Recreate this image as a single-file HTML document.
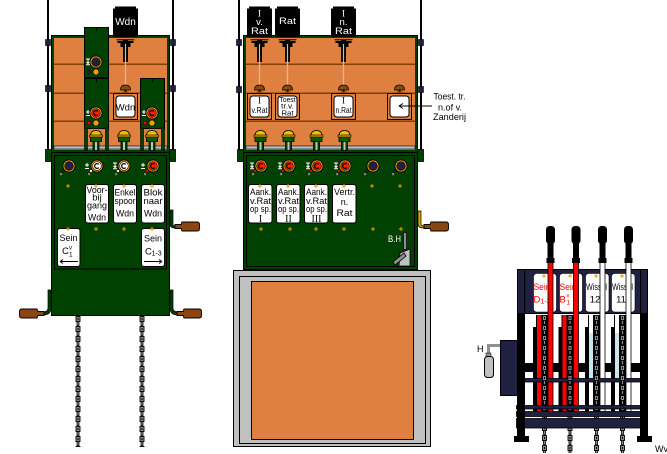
<!DOCTYPE html>
<html><head><meta charset="utf-8">
<style>
html,body{margin:0;padding:0;background:#fff;overflow:hidden}
svg{display:block}
text{font-family:"Liberation Sans",sans-serif}
.sf{font-family:"Liberation Serif",serif}
</style></head><body>
<svg xmlns="http://www.w3.org/2000/svg" width="667" height="454" viewBox="0 0 667 454">
<defs>
<pattern id="chain" width="6" height="10" patternUnits="userSpaceOnUse">
 <rect x="0.5" y="0.5" width="4" height="5" fill="#8c8c8c" stroke="#000" stroke-width="0.9"/>
 <rect x="2" y="2" width="1" height="2" fill="#000"/>
 <rect x="1.5" y="5.5" width="2" height="4" fill="#8c8c8c" stroke="#000" stroke-width="0.8"/>
</pattern>
<g id="helm">
 <rect x="-3" y="10" width="6" height="10" fill="#004000" stroke="#000" stroke-width="0.8"/>
 <rect x="-1" y="11" width="2" height="9" fill="#c0c0c0"/>
 <rect x="-5.5" y="6.5" width="11" height="5" fill="#006000" stroke="#000" stroke-width="0.8"/>
 <path d="M-5.5,6 Q-5.5,0.5 0,0.5 Q5.5,0.5 5.5,6 Z" fill="#f0c000" stroke="#000" stroke-width="0.8"/>
 <rect x="-6.5" y="5" width="13" height="2" fill="#e0a000" stroke="#000" stroke-width="0.6"/>
</g>
<g id="mech">
 <rect x="-9" y="39" width="18" height="1.4" fill="#303000"/>
 <path d="M-8,41 H8 V43 H5 V47 H-5 V43 H-8 Z" fill="#000"/>
 <rect x="-2.5" y="40" width="5" height="22" fill="#000"/>
 <rect x="-0.6" y="44" width="1.2" height="41" fill="#c0c0c0"/>
</g>
<g id="knob">
 <path d="M-5,90 Q-5,85 0,85 Q5,85 5,90 Z" fill="#8a4a10" stroke="#000" stroke-width="0.7"/>
 <rect x="-1" y="90" width="2" height="2" fill="#000"/>
 <rect x="-3" y="91.5" width="6" height="1.5" fill="#8a4a10"/>
</g>
<g id="lframe">
 <rect x="0.5" y="93.5" width="24" height="26" fill="#e08040" stroke="#000"/>
 <rect x="3" y="96" width="19" height="21" rx="3" fill="#fff" stroke="#000"/>
</g>
<g id="lampD"><circle r="6.5" fill="#000"/><circle r="5.6" fill="#f0a000"/><circle r="4.3" fill="#202040" stroke="#000" stroke-width=".6"/></g>
<g id="lampW"><circle r="6.5" fill="#000"/><circle r="5.6" fill="#f0a000"/><circle r="4.3" fill="#fff" stroke="#000" stroke-width=".6"/><path d="M1.8,-1.6 A2.4,2.4 0 1 0 1.8,1.6" stroke="#000" stroke-width="1.2" fill="none"/></g>
<g id="lampR"><circle r="6.5" fill="#000"/><circle r="5.6" fill="#f0a000"/><circle r="4.3" fill="#ff2000" stroke="#000" stroke-width=".6"/><path d="M1.8,-1.6 A2.4,2.4 0 1 0 1.8,1.6" stroke="#000" stroke-width="1.2" fill="none"/></g>
<g id="indD"><circle cx="-6" cy="5" r="1.4" fill="#202040" stroke="#000" stroke-width=".4"/><rect x="-9" y="7" width="2.2" height="2.2" fill="#808080"/></g>
<g id="indW"><circle cx="-6" cy="5" r="1.4" fill="#fff" stroke="#000" stroke-width=".4"/><rect x="-9" y="7" width="2.2" height="2.2" fill="#808080"/></g>
<g id="indR"><circle cx="-6" cy="5" r="1.4" fill="#ff0000" stroke="#000" stroke-width=".4"/><rect x="-9" y="7" width="2.2" height="2.2" fill="#808080"/></g>
<path id="plus" d="M-2,0 H2 M0,-2 V2" stroke="#e0a000" stroke-width="1" fill="none"/>
<path id="sPM" d="M-2,-1 H2 M0,-3 V1 M-2,2.5 H2" stroke="#fff" stroke-width="1" fill="none"/>
<path id="sT" d="M-2,-3 H2 M0,-3 V1.5 M-1.5,0 L0,1.5 L1.5,0 M-2,2.8 H2" stroke="#fff" stroke-width="1" fill="none"/>
<path id="handle" d="M0,-2 L6,-2 L7,-4.5 L22,-4.5 Q24.5,-4.5 24.5,-2 L24.5,2 Q24.5,4.5 22,4.5 L7,4.5 L6,2 L0,2 Z" fill="#8a4510" stroke="#000" stroke-width="0.9"/>
</defs>

<!-- ================= LEFT PANEL ================= -->
<rect x="47" y="0" width="2" height="160" fill="#000"/>
<rect x="172" y="0" width="2" height="160" fill="#000"/>
<rect x="45.5" y="39.5" width="5" height="6" fill="#202040" stroke="#000" stroke-width=".6"/>
<rect x="45.5" y="85.5" width="5" height="6" fill="#202040" stroke="#000" stroke-width=".6"/>
<rect x="170.5" y="39.5" width="5" height="6" fill="#202040" stroke="#000" stroke-width=".6"/>
<rect x="170.5" y="85.5" width="5" height="6" fill="#202040" stroke="#000" stroke-width=".6"/>

<rect x="51.5" y="35.5" width="118" height="117" fill="#004000" stroke="#000"/>
<rect x="54" y="38" width="113" height="112" fill="#e08040"/>
<rect x="54" y="63.5" width="113" height="1.5" fill="#804000"/>
<rect x="54" y="92.5" width="113" height="1.5" fill="#804000"/>
<rect x="54" y="120.5" width="113" height="1.5" fill="#804000"/>
<rect x="54" y="146" width="113" height="3" fill="#c0c0c0" stroke="#000" stroke-width=".6"/>

<rect x="84.5" y="27.5" width="24" height="101" fill="#004000" stroke="#000"/>
<rect x="84" y="77" width="25" height="2" fill="#000"/>
<rect x="96" y="28" width="1" height="3" fill="#000"/>
<rect x="96" y="79" width="1" height="3" fill="#000"/>
<rect x="140.5" y="78.5" width="24" height="50" fill="#004000" stroke="#000"/>
<rect x="152" y="79" width="1" height="3" fill="#000"/>
<rect x="84.5" y="128" width="3" height="22" fill="#004000" stroke="#000" stroke-width=".6"/>
<rect x="105.5" y="128" width="3" height="22" fill="#004000" stroke="#000" stroke-width=".6"/>
<rect x="140.5" y="128" width="3" height="22" fill="#004000" stroke="#000" stroke-width=".6"/>
<rect x="161.5" y="128" width="3" height="22" fill="#004000" stroke="#000" stroke-width=".6"/>

<use href="#sT" x="88" y="62"/>
<use href="#lampD" x="96" y="62"/>
<circle cx="89" cy="72" r="1.8" fill="#202040" stroke="#000" stroke-width=".4"/>
<circle cx="96" cy="72" r="3" fill="#f0a000" stroke="#000" stroke-width=".6"/>
<use href="#sPM" x="88" y="113"/>
<use href="#lampR" x="96" y="113"/>
<circle cx="89" cy="123" r="1.8" fill="#ff0000" stroke="#000" stroke-width=".4"/>
<circle cx="96" cy="123" r="3" fill="#f0a000" stroke="#000" stroke-width=".6"/>
<use href="#sPM" x="144" y="113"/>
<use href="#lampR" x="152" y="113"/>
<circle cx="145" cy="123" r="1.8" fill="#ff0000" stroke="#000" stroke-width=".4"/>
<circle cx="152" cy="123" r="3" fill="#f0a000" stroke="#000" stroke-width=".6"/>

<rect x="113" y="8.5" width="25" height="28.5" fill="#000"/>
<rect x="115" y="6.5" width="21" height="3" fill="#000"/>
<text x="125.5" y="25" font-size="10" fill="#fff" text-anchor="middle">Wdn</text>
<use href="#mech" x="125.5" y="0"/>
<use href="#knob" x="125.5" y="0"/>
<use href="#lframe" x="113" y="0"/>
<text x="125.5" y="110.5" font-size="9.5" text-anchor="middle">Wdn</text>

<use href="#helm" x="96" y="130"/>
<use href="#helm" x="124" y="130"/>
<use href="#helm" x="152" y="130"/>

<!-- left green panel -->
<rect x="45.5" y="149.5" width="6" height="12" fill="#004000" stroke="#000" stroke-width=".8"/>
<rect x="169.5" y="149.5" width="6" height="12" fill="#004000" stroke="#000" stroke-width=".8"/>
<rect x="51.5" y="152.5" width="118" height="163" fill="#004000" stroke="#000"/>
<rect x="54.5" y="155.5" width="112" height="113.5" fill="none" stroke="#000"/>

<use href="#lampD" x="69" y="166"/><use href="#indD" x="69" y="166"/>
<use href="#sPM" x="87" y="166"/>
<use href="#lampW" x="97" y="166"/><use href="#indW" x="97" y="166"/>
<use href="#sT" x="115" y="166"/>
<use href="#lampW" x="124" y="166"/><use href="#indW" x="124" y="166"/>
<use href="#sPM" x="143" y="166"/>
<use href="#lampR" x="153" y="166"/><use href="#indR" x="153" y="166"/>

<rect x="85.5" y="184.5" width="23" height="38.5" rx="2.5" fill="#fff" stroke="#000"/>
<rect x="113.5" y="184.5" width="23" height="38.5" rx="2.5" fill="#fff" stroke="#000"/>
<rect x="141.5" y="184.5" width="23" height="38.5" rx="2.5" fill="#fff" stroke="#000"/>
<rect x="57.5" y="228.5" width="22.5" height="38" rx="2.5" fill="#fff" stroke="#000"/>
<rect x="141.5" y="228.5" width="23" height="38" rx="2.5" fill="#fff" stroke="#000"/>

<g font-size="9.5" text-anchor="middle">
<text x="97" y="193" textLength="21" lengthAdjust="spacingAndGlyphs">Voor-</text>
<text x="97" y="200.5">bij</text>
<text x="97" y="208.5" textLength="20" lengthAdjust="spacingAndGlyphs">gang</text>
<text x="97" y="220.5" textLength="18" lengthAdjust="spacingAndGlyphs">Wdn</text>
<text x="125" y="195.5" textLength="21" lengthAdjust="spacingAndGlyphs">Enkel</text>
<text x="125" y="204" textLength="21" lengthAdjust="spacingAndGlyphs">spoor</text>
<text x="125" y="216.5" textLength="18" lengthAdjust="spacingAndGlyphs">Wdn</text>
<text x="153" y="195.5" textLength="19" lengthAdjust="spacingAndGlyphs">Blok</text>
<text x="153" y="204" textLength="19" lengthAdjust="spacingAndGlyphs">naar</text>
<text x="153" y="216.5" textLength="18" lengthAdjust="spacingAndGlyphs">Wdn</text>
<text x="68.5" y="241" textLength="18" lengthAdjust="spacingAndGlyphs">Sein</text>
<text x="153" y="241.5" textLength="18" lengthAdjust="spacingAndGlyphs">Sein</text>
</g>
<text x="62" y="254" font-size="9.5">C</text>
<text x="69" y="256.5" font-size="6.5">1</text>
<text x="69" y="249.5" font-size="6">v</text>
<path d="M60,261.5 H78 M60,261.5 l3,-2 M60,261.5 l3,2" stroke="#000" stroke-width="1" fill="none"/>
<text x="145" y="254.5" font-size="9.5">C</text>
<text x="151.5" y="255.5" font-size="7">1-3</text>
<path d="M144,261.5 H162 M162,261.5 l-3,-2 M162,261.5 l-3,2" stroke="#000" stroke-width="1" fill="none"/>

<use href="#plus" x="68" y="186"/><use href="#plus" x="96" y="186"/><use href="#plus" x="124" y="186"/><use href="#plus" x="152" y="186"/>
<use href="#plus" x="68" y="229"/><use href="#plus" x="96" y="229"/><use href="#plus" x="124" y="229"/><use href="#plus" x="152" y="229"/>

<!-- left cranks -->
<path d="M170,210 H173 V224 Q173,226 175,226 V228 Q170,228 170,224 Z" fill="#004000" stroke="#000" stroke-width=".7"/>
<use href="#handle" x="175" y="226.5"/>
<path d="M170,290 H173 V308 Q173,312 178,312 V315 Q170,315 170,308 Z" fill="#004000" stroke="#000" stroke-width=".7"/>
<use href="#handle" x="177" y="313.5"/>
<path d="M51,290 H48 V308 Q48,312 43,312 V315 Q51,315 51,308 Z" fill="#004000" stroke="#000" stroke-width=".7"/>
<use href="#handle" transform="translate(44,313.5) scale(-1,1)"/>

<!-- chains left -->
<g transform="translate(75.5,316)"><rect width="5" height="131" fill="url(#chain)"/></g>
<g transform="translate(139.5,316)"><rect width="5" height="131" fill="url(#chain)"/></g>

<!-- ================= MIDDLE PANEL ================= -->
<rect x="238" y="0" width="2" height="160" fill="#000"/>
<rect x="420" y="0" width="2" height="160" fill="#000"/>
<rect x="236.5" y="39.5" width="5" height="6" fill="#202040" stroke="#000" stroke-width=".6"/>
<rect x="236.5" y="86.5" width="5" height="6" fill="#202040" stroke="#000" stroke-width=".6"/>
<rect x="418.5" y="39.5" width="5" height="6" fill="#202040" stroke="#000" stroke-width=".6"/>
<rect x="418.5" y="86.5" width="5" height="6" fill="#202040" stroke="#000" stroke-width=".6"/>

<rect x="243.5" y="35.5" width="174" height="117" fill="#004000" stroke="#000"/>
<rect x="246" y="38" width="169" height="112" fill="#e08040"/>
<rect x="246" y="63.5" width="169" height="1.5" fill="#804000"/>
<rect x="246" y="92.5" width="169" height="1.5" fill="#804000"/>
<rect x="246" y="120.5" width="169" height="1.5" fill="#804000"/>
<rect x="246" y="146" width="169" height="3" fill="#c0c0c0" stroke="#000" stroke-width=".6"/>

<rect x="247" y="8.5" width="25" height="28.5" fill="#000"/><rect x="249" y="6.5" width="21" height="3" fill="#000"/>
<rect x="275" y="8.5" width="25" height="28.5" fill="#000"/><rect x="277" y="6.5" width="21" height="3" fill="#000"/>
<rect x="331" y="8.5" width="25" height="28.5" fill="#000"/><rect x="333" y="6.5" width="21" height="3" fill="#000"/>
<g fill="#fff" font-size="9.5" text-anchor="middle">
<text x="259.5" y="16.5" class="sf">I</text>
<text x="259.5" y="25">v.</text>
<text x="259.5" y="34" textLength="17" lengthAdjust="spacingAndGlyphs">Rat</text>
<text x="287.5" y="24" textLength="17" lengthAdjust="spacingAndGlyphs">Rat</text>
<text x="343.5" y="16.5" class="sf">I</text>
<text x="343.5" y="25">n.</text>
<text x="343.5" y="34" textLength="17" lengthAdjust="spacingAndGlyphs">Rat</text>
</g>
<use href="#mech" x="259.5" y="0"/>
<use href="#mech" x="287.5" y="0"/>
<use href="#mech" x="343.5" y="0"/>
<use href="#knob" x="259.5" y="0"/>
<use href="#knob" x="287.5" y="0"/>
<use href="#knob" x="343.5" y="0"/>
<use href="#knob" x="399.5" y="0"/>
<use href="#lframe" x="247" y="0"/>
<use href="#lframe" x="275" y="0"/>
<use href="#lframe" x="331" y="0"/>
<use href="#lframe" x="387" y="0"/>
<g text-anchor="middle">
<text x="259.5" y="103.5" font-size="9" class="sf">I</text>
<text x="259.5" y="113" font-size="8.5" textLength="16" lengthAdjust="spacingAndGlyphs">v.Rat</text>
<text x="287.5" y="102" font-size="7" textLength="16" lengthAdjust="spacingAndGlyphs">Toest</text>
<text x="287.5" y="108.5" font-size="7" textLength="13" lengthAdjust="spacingAndGlyphs">tr.v.</text>
<text x="287.5" y="115.5" font-size="7" textLength="12" lengthAdjust="spacingAndGlyphs">Rat</text>
<text x="343.5" y="103.5" font-size="9" class="sf">I</text>
<text x="343.5" y="113" font-size="8.5" textLength="16" lengthAdjust="spacingAndGlyphs">n.Rat</text>
</g>
<path d="M399,106 H432 M399,106 l4,-2.5 M399,106 l4,2.5" stroke="#000" stroke-width="1" fill="none"/>
<g font-size="9.5" text-anchor="middle">
<text x="449.5" y="99.5" textLength="32" lengthAdjust="spacingAndGlyphs">Toest. tr.</text>
<text x="450" y="110.5" textLength="24" lengthAdjust="spacingAndGlyphs">n.of v.</text>
<text x="449.5" y="120" textLength="33" lengthAdjust="spacingAndGlyphs">Zanderij</text>
</g>

<use href="#helm" x="260.5" y="130"/>
<use href="#helm" x="288.5" y="130"/>
<use href="#helm" x="316.5" y="130"/>
<use href="#helm" x="344.5" y="130"/>

<!-- middle green panel -->
<rect x="237.5" y="149.5" width="6" height="12" fill="#004000" stroke="#000" stroke-width=".8"/>
<rect x="417.5" y="149.5" width="6" height="12" fill="#004000" stroke="#000" stroke-width=".8"/>
<rect x="243.5" y="152.5" width="174" height="117" fill="#004000" stroke="#000"/>
<rect x="246.5" y="155.5" width="168" height="111" fill="none" stroke="#000"/>

<use href="#sT" x="252" y="166"/><use href="#lampR" x="261" y="166"/><use href="#indR" x="261" y="166"/>
<use href="#sT" x="280" y="166"/><use href="#lampR" x="289" y="166"/><use href="#indR" x="289" y="166"/>
<use href="#sT" x="308" y="166"/><use href="#lampR" x="317" y="166"/><use href="#indR" x="317" y="166"/>
<use href="#sT" x="336" y="166"/><use href="#lampR" x="345" y="166"/><use href="#indR" x="345" y="166"/>
<use href="#lampD" x="373" y="166"/><use href="#indD" x="373" y="166"/>
<use href="#lampD" x="401" y="166"/><use href="#indD" x="401" y="166"/>

<rect x="248.5" y="184.5" width="23.5" height="38.5" rx="2.5" fill="#fff" stroke="#000"/>
<rect x="276.5" y="184.5" width="23.5" height="38.5" rx="2.5" fill="#fff" stroke="#000"/>
<rect x="304.5" y="184.5" width="23.5" height="38.5" rx="2.5" fill="#fff" stroke="#000"/>
<rect x="332.5" y="184.5" width="23.5" height="38.5" rx="2.5" fill="#fff" stroke="#000"/>
<g font-size="9" text-anchor="middle">
<text x="260.5" y="195" textLength="21" lengthAdjust="spacingAndGlyphs">Aank.</text>
<text x="260.5" y="204" textLength="21" lengthAdjust="spacingAndGlyphs">v.Rat</text>
<text x="260.5" y="212" textLength="21" lengthAdjust="spacingAndGlyphs">op sp.</text>
<text x="260.5" y="222" class="sf" font-size="10">I</text>
<text x="288.5" y="195" textLength="21" lengthAdjust="spacingAndGlyphs">Aank.</text>
<text x="288.5" y="204" textLength="21" lengthAdjust="spacingAndGlyphs">v.Rat</text>
<text x="288.5" y="212" textLength="21" lengthAdjust="spacingAndGlyphs">op sp.</text>
<text x="288.5" y="222" class="sf" font-size="10">II</text>
<text x="316.5" y="195" textLength="21" lengthAdjust="spacingAndGlyphs">Aank.</text>
<text x="316.5" y="204" textLength="21" lengthAdjust="spacingAndGlyphs">v.Rat</text>
<text x="316.5" y="212" textLength="21" lengthAdjust="spacingAndGlyphs">op sp.</text>
<text x="316.5" y="222" class="sf" font-size="10">III</text>
<text x="344.5" y="195" textLength="21" lengthAdjust="spacingAndGlyphs">Vertr.</text>
<text x="344.5" y="205">n.</text>
<text x="344.5" y="216" textLength="16" lengthAdjust="spacingAndGlyphs">Rat</text>
</g>
<use href="#plus" x="260" y="186"/><use href="#plus" x="288" y="186"/><use href="#plus" x="316" y="186"/><use href="#plus" x="344" y="186"/><use href="#plus" x="372" y="186"/><use href="#plus" x="400" y="186"/>
<use href="#plus" x="261" y="229"/><use href="#plus" x="290" y="229"/><use href="#plus" x="316" y="229"/><use href="#plus" x="344" y="229"/><use href="#plus" x="373" y="229"/><use href="#plus" x="401" y="229"/>

<!-- middle crank -->
<path d="M418,211 H421 V224 Q421,226 424,226 V228 Q418,228 418,224 Z" fill="#e0a000" stroke="#000" stroke-width=".7"/>
<use href="#handle" x="424" y="226.5"/>

<!-- B.H lever -->
<text x="388" y="242" font-size="9" fill="#fff" textLength="13" lengthAdjust="spacingAndGlyphs">B.H</text>
<rect x="403.5" y="232.5" width="3" height="17" fill="#909090" stroke="#000" stroke-width=".7"/>
<path d="M400,253 L410,249 L410,266 L399,266 Z" fill="#c0c0c0" stroke="#000" stroke-width=".8"/>
<path d="M393,262 L404,253 L406,256 L395,265 Z" fill="#909090" stroke="#000" stroke-width=".8"/>

<!-- grey box -->
<rect x="233.5" y="270.5" width="197" height="176" fill="#c0c0c0" stroke="#000"/>
<rect x="239.5" y="276.5" width="186" height="167" fill="none" stroke="#000"/>
<rect x="251.5" y="281.5" width="162" height="158" fill="#e08040" stroke="#000"/>

<!-- ================= RIGHT PANEL ================= -->
<rect x="517.5" y="269.5" width="130" height="44" fill="#202040" stroke="#000"/>
<rect x="524" y="270" width="1.2" height="43" fill="#000"/>
<rect x="640" y="270" width="1.2" height="43" fill="#000"/>
<rect x="533.5" y="273.5" width="23" height="38.5" rx="3" fill="#fff" stroke="#000" stroke-width=".6"/>
<rect x="559.5" y="273.5" width="23" height="38.5" rx="3" fill="#fff" stroke="#000" stroke-width=".6"/>
<rect x="585.5" y="273.5" width="23.5" height="38.5" rx="3" fill="#fff" stroke="#000" stroke-width=".6"/>
<rect x="611.5" y="273.5" width="23.5" height="38.5" rx="3" fill="#fff" stroke="#000" stroke-width=".6"/>
<use href="#plus" x="544" y="276"/><use href="#plus" x="570" y="276"/><use href="#plus" x="596" y="276"/><use href="#plus" x="622" y="276"/>
<g font-size="9.5">
<text x="533.5" y="290" fill="#f00" textLength="17" lengthAdjust="spacingAndGlyphs">Sein</text>
<text x="533.5" y="302.5" fill="#f00">D</text>
<text x="540.5" y="303.5" fill="#f00" font-size="7">1-3</text>
<text x="559.5" y="290" fill="#f00" textLength="17" lengthAdjust="spacingAndGlyphs">Sein</text>
<text x="559.5" y="302.5" fill="#f00">B</text>
<text x="566.5" y="304.5" fill="#f00" font-size="6.5">1</text>
<text x="566.5" y="297.5" fill="#f00" font-size="6">v</text>
<text x="586" y="290" textLength="21" lengthAdjust="spacingAndGlyphs">Wissel</text>
<text x="595" y="302.5" text-anchor="middle">12</text>
<text x="612" y="290" textLength="21" lengthAdjust="spacingAndGlyphs">Wissel</text>
<text x="621" y="302.5" text-anchor="middle">11</text>
</g>

<!-- lower mechanism -->
<rect x="517" y="363" width="131" height="9" fill="#000"/>
<!-- slot 1 -->
<rect x="536" y="315" width="17" height="98" fill="#000"/>
<rect x="537" y="315" width="4" height="98" fill="#ff0000"/>
<rect x="533" y="327" width="3" height="86" fill="#000"/>
<!-- slot 2 -->
<rect x="561.5" y="315" width="17" height="98" fill="#000"/>
<rect x="562.5" y="315" width="4" height="98" fill="#ff0000"/>
<rect x="558.5" y="327" width="3" height="86" fill="#000"/>
<!-- slot 3 -->
<rect x="588" y="315" width="17" height="98" fill="#000"/>
<rect x="589" y="315" width="4" height="98" fill="#fff"/>
<rect x="589" y="333" width="4" height="45" fill="#c8e6ec"/>
<rect x="585" y="327" width="3" height="86" fill="#000"/>
<!-- slot 4 -->
<rect x="614" y="315" width="17" height="98" fill="#000"/>
<rect x="615" y="315" width="4" height="98" fill="#fff"/>
<rect x="615" y="333" width="4" height="45" fill="#c8e6ec"/>
<rect x="611" y="327" width="3" height="86" fill="#000"/>

<!-- rods -->
<rect x="548" y="262" width="5" height="151" fill="#ff0000" stroke="#000" stroke-width=".8"/>
<rect x="573.5" y="262" width="5" height="151" fill="#ff0000" stroke="#000" stroke-width=".8"/>
<rect x="600" y="262" width="5" height="151" fill="#fff" stroke="#000" stroke-width=".8"/>
<rect x="626" y="262" width="5" height="151" fill="#fff" stroke="#000" stroke-width=".8"/>

<rect x="524.5" y="378.5" width="116" height="3.5" fill="#202040" stroke="#000" stroke-width=".8"/>

<!-- chains -->
<g transform="translate(542,315)"><rect width="5" height="138" fill="url(#chain)"/></g>
<g transform="translate(567.5,315)"><rect width="5" height="138" fill="url(#chain)"/></g>
<g transform="translate(594,315)"><rect width="5" height="138" fill="url(#chain)"/></g>
<g transform="translate(620,315)"><rect width="5" height="138" fill="url(#chain)"/></g>

<rect x="516.5" y="405.5" width="131" height="3.5" fill="#202040" stroke="#000" stroke-width=".8"/>
<rect x="516.5" y="411.5" width="131" height="5" fill="#202040" stroke="#000" stroke-width=".8"/>
<rect x="516.5" y="418.5" width="131" height="9.5" fill="#202040" stroke="#000" stroke-width=".8"/>

<!-- columns -->
<rect x="517" y="313" width="8" height="124" fill="#000"/>
<rect x="640" y="313" width="8" height="124" fill="#000"/>
<rect x="514" y="436" width="15" height="6" fill="#000"/>
<rect x="637" y="436" width="15" height="6" fill="#000"/>

<!-- handles -->
<g fill="#000">
<rect x="546" y="226" width="9" height="18" rx="3.5"/><rect x="547.5" y="243" width="6" height="16"/><rect x="546.5" y="258" width="8" height="5"/>
<rect x="571.5" y="226" width="9" height="18" rx="3.5"/><rect x="573" y="243" width="6" height="16"/><rect x="572" y="258" width="8" height="5"/>
<rect x="598" y="226" width="9" height="18" rx="3.5"/><rect x="599.5" y="243" width="6" height="16"/><rect x="598.5" y="258" width="8" height="5"/>
<rect x="624" y="226" width="9" height="18" rx="3.5"/><rect x="625.5" y="243" width="6" height="16"/><rect x="624.5" y="258" width="8" height="5"/>
</g>

<!-- side box & bottle -->
<rect x="500.5" y="340.5" width="17" height="55" fill="#202040" stroke="#000"/>
<rect x="487" y="344" width="13" height="3" fill="#909090"/>
<rect x="487" y="344" width="3" height="12" fill="#909090"/>
<rect x="486" y="353" width="5" height="4" fill="#909090" stroke="#000" stroke-width=".5"/>
<rect x="484.5" y="356.5" width="9" height="21" rx="3" fill="#c0c0c0" stroke="#000"/>
<text x="477" y="352" font-size="9">H</text>
<text x="655" y="452" font-size="9">Wv</text>
</svg>
</body></html>
